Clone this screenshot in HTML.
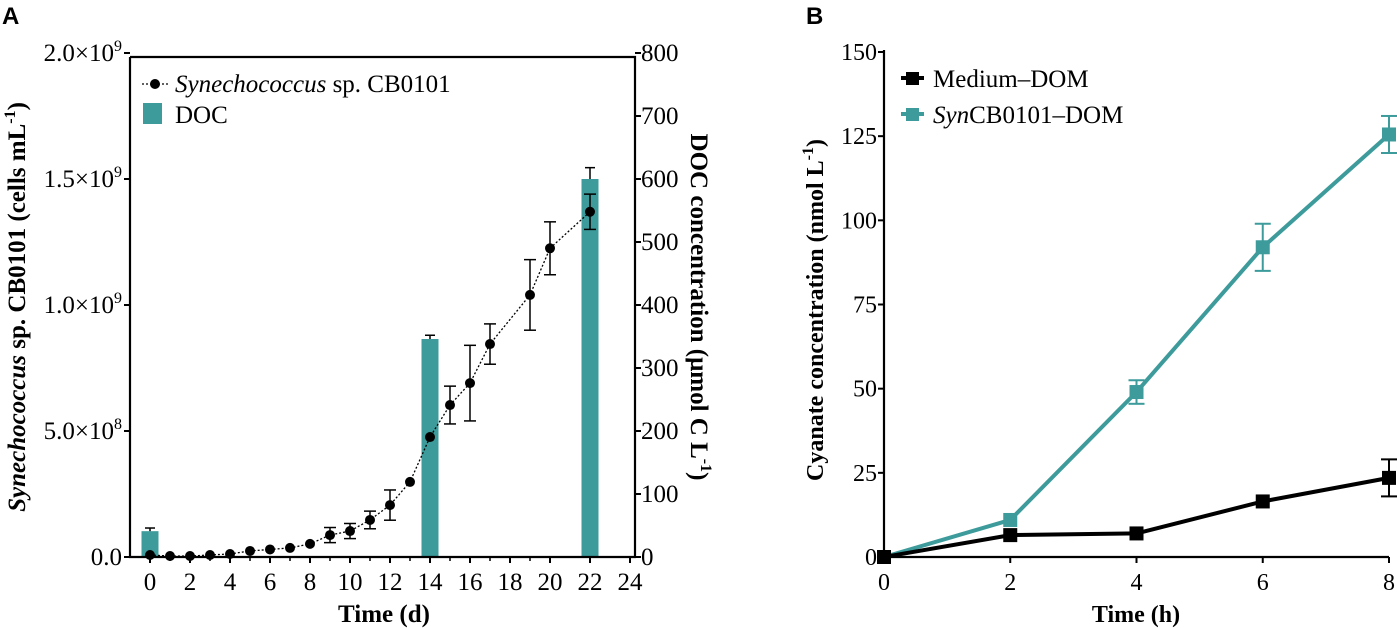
<!DOCTYPE html>
<html><head><meta charset="utf-8"><style>
body{margin:0;background:#fff}
svg{display:block}
text{font-family:"Liberation Serif",serif;fill:#000}
.t{font-size:25px}
.tb{font-size:24px}
.b{font-weight:bold;font-size:25px}
.bb{font-weight:bold;font-size:24px}
.p{font-family:"Liberation Sans",sans-serif;font-weight:bold;font-size:24px}
</style></head><body>
<svg id="s" width="1397" height="628">
<text class="p" x="2" y="24">A</text>
<text class="p" x="806" y="24">B</text>
<g id="ga"></g>
<g id="gb"></g>
</svg>
<script>
const NS='http://www.w3.org/2000/svg';
const aDays=[0,1,2,3,4,5,6,7,8,9,10,11,12,13,14,15,16,17,19,20,22];
const aCells=[0.008,0.004,0.004,0.008,0.012,0.024,0.03,0.036,0.052,0.087,0.103,0.147,0.206,0.298,0.476,0.603,0.69,0.845,1.04,1.225,1.37];
const aCellErr=[0,0,0,0,0,0,0,0,0,0.03,0.03,0.035,0.06,0,0,0.075,0.15,0.08,0.14,0.105,0.07];
const docDays=[0,14,22];
const docVals=[41,346,600];
const docErr=[5,6,18];
const aLeftTicks=['0.0','5.0×10⁸','1.0×10⁹','1.5×10⁹','2.0×10⁹'];
const aRightTicks=[0,100,200,300,400,500,600,700,800];
const aXTicks=[0,2,4,6,8,10,12,14,16,18,20,22,24];
const bTimes=[0,2,4,6,8];
const bMedium=[0,6.5,7,16.5,23.5];
const bMediumErr=[0,0,0,0,5.5];
const bSyn=[0,11,49,92,125.5];
const bSynErr=[0,0,3.5,7,5.5];
const bYTicks=[0,25,50,75,100,125,150];
const TEAL='#3d9b9b';
function el(p,t,a,name){const e=document.createElementNS(NS,t);for(const k in a)e.setAttribute(k,a[k]);


p.appendChild(e);return e;}
function tx(p,x,y,s,cls,anch,name){const e=el(p,'text',{x:x,y:y,class:cls,'text-anchor':anch||'start'},name);e.innerHTML=s;return e;}
// Chart A
const ga=document.getElementById('ga');
const ax=d=>150+d*20, ay=v=>557-v*252, ar=v=>557-v/800*504;
docDays.forEach((d,i)=>{
  el(ga,'rect',{x:ax(d)-8.5,y:ar(docVals[i]),width:17,height:557-ar(docVals[i]),fill:TEAL},'doc-bar-day'+d);
  const y1=ar(docVals[i]+docErr[i]);
  el(ga,'line',{x1:ax(d),x2:ax(d),y1:y1,y2:ar(docVals[i]),stroke:'#000','stroke-width':1.5},'doc-error');
  el(ga,'line',{x1:ax(d)-5,x2:ax(d)+5,y1:y1,y2:y1,stroke:'#000','stroke-width':1.5},'doc-error-cap');
});
el(ga,'polyline',{points:aDays.map((d,i)=>ax(d)+','+ay(aCells[i])).join(' '),fill:'none',stroke:'#000','stroke-width':1.3,'stroke-dasharray':'2,2'},'cells-line');
aDays.forEach((d,i)=>{
  if(aCellErr[i]>0){const y1=ay(aCells[i]+aCellErr[i]),y2=ay(aCells[i]-aCellErr[i]);
    el(ga,'line',{x1:ax(d),x2:ax(d),y1:y1,y2:y2,stroke:'#000','stroke-width':1.5},'cells-error');
    [y1,y2].forEach(y=>el(ga,'line',{x1:ax(d)-6,x2:ax(d)+6,y1:y,y2:y,stroke:'#000','stroke-width':1.5},'cells-error-cap'));}
  el(ga,'circle',{cx:ax(d),cy:ay(aCells[i]),r:5,fill:'#000'},'cells-point-day'+d);
});
el(ga,'path',{d:'M130,57V557H635V57H130',fill:'none',stroke:'#000','stroke-width':2.2},'plot-frame-a');
aLeftTicks.forEach((s,i)=>{const y=ay(i*0.5);el(ga,'line',{x1:124,x2:130,y1:y,y2:y,stroke:'#000','stroke-width':2},'left-tick');
  tx(ga,122,y+8,s.replace(/([⁸⁹])/,'<tspan font-size="16" dy="-10">$1</tspan>').replace('⁸','8').replace('⁹','9'),'t','end','left-tick-label');});
aRightTicks.forEach(v=>{const y=ar(v);el(ga,'line',{x1:635,x2:641,y1:y,y2:y,stroke:'#000','stroke-width':2},'right-tick');
  tx(ga,641,y+8,v,'t','start','right-tick-label');});
aXTicks.forEach(v=>{const x=ax(v);el(ga,'line',{x1:x,x2:x,y1:557,y2:563,stroke:'#000','stroke-width':2},'x-tick');
  tx(ga,x,590,v,'t','middle','x-tick-label');});
aDays.forEach(d=>{if(d%2)el(ga,'line',{x1:ax(d),x2:ax(d),y1:557,y2:561,stroke:'#000','stroke-width':1.5},'x-minor-tick');});
tx(ga,384,622,'Time (d)','b','middle','x-axis-title-a');
tx(ga,0,0,'<tspan font-style="italic">Synechococcus</tspan> sp. CB0101 (cells mL<tspan font-size="16" dy="-10">-1</tspan><tspan dy="10">)</tspan>','b','middle','left-axis-title').setAttribute('transform','translate(25,307) rotate(-90)');
tx(ga,0,0,'DOC concentration (μmol C L<tspan font-size="16" dy="-10">-1</tspan><tspan dy="10">)</tspan>','b','middle','right-axis-title').setAttribute('transform','translate(691,307) rotate(90)');
el(ga,'line',{x1:142,x2:168,y1:84,y2:84,stroke:'#000','stroke-width':1.3,'stroke-dasharray':'2,2'},'legend-cells-line');
el(ga,'circle',{cx:155,cy:84,r:5,fill:'#000'},'legend-cells-marker');
tx(ga,175,92,'<tspan font-style="italic">Synechococcus</tspan> sp. CB0101','t','start','legend-cells-label');
el(ga,'rect',{x:143,y:103,width:19,height:21,fill:TEAL},'legend-doc-swatch');
tx(ga,175,123,'DOC','t','start','legend-doc-label');
// Chart B
const gb=document.getElementById('gb');
const bx=t=>884+t*63.125, by=v=>557-v*505/150;
function series(vals,errs,color,name){
  el(gb,'polyline',{points:bTimes.map((t,i)=>bx(t)+','+by(vals[i])).join(' '),fill:'none',stroke:color,'stroke-width':4},name+'-line');
  bTimes.forEach((t,i)=>{
    if(errs[i]>0){const y1=by(vals[i]+errs[i]),y2=by(vals[i]-errs[i]);
      el(gb,'line',{x1:bx(t),x2:bx(t),y1:y1,y2:y2,stroke:color,'stroke-width':2},name+'-error');
      [y1,y2].forEach(y=>el(gb,'line',{x1:bx(t)-8,x2:bx(t)+8,y1:y,y2:y,stroke:color,'stroke-width':2},name+'-error-cap'));}
    el(gb,'rect',{x:bx(t)-7,y:by(vals[i])-7,width:14,height:14,fill:color},name+'-point-'+t);
  });
}
series(bSyn,bSynErr,TEAL,'syn');
series(bMedium,bMediumErr,'#000','medium');
el(gb,'path',{d:'M884,50V557H1389',fill:'none',stroke:'#000','stroke-width':2.2},'axes-b');
bYTicks.forEach(v=>{const y=by(v);el(gb,'line',{x1:878,x2:884,y1:y,y2:y,stroke:'#000','stroke-width':2},'y-tick-b');
  tx(gb,877,y+8,v,'tb','end','y-tick-label-b');});
bTimes.forEach(t=>{const x=bx(t);el(gb,'line',{x1:x,x2:x,y1:557,y2:563,stroke:'#000','stroke-width':2},'x-tick-b');
  tx(gb,x,590,t,'tb','middle','x-tick-label-b');});
tx(gb,1136,622,'Time (h)','bb','middle','x-axis-title-b');
tx(gb,0,0,'Cyanate concentration (nmol L<tspan font-size="16" dy="-10">-1</tspan><tspan dy="10">)</tspan>','bb','middle','y-axis-title-b').setAttribute('transform','translate(823,310) rotate(-90)');
el(gb,'line',{x1:901,x2:924,y1:78,y2:78,stroke:'#000','stroke-width':4},'legend-medium-line');
el(gb,'rect',{x:906,y:72,width:13,height:13,fill:'#000'},'legend-medium-marker');
tx(gb,933,87,'Medium–DOM','t','start','legend-medium-label');
el(gb,'line',{x1:901,x2:924,y1:114,y2:114,stroke:TEAL,'stroke-width':4},'legend-syn-line');
el(gb,'rect',{x:906,y:108,width:13,height:13,fill:TEAL},'legend-syn-marker');
tx(gb,933,123,'<tspan font-style="italic">Syn</tspan>CB0101–DOM','t','start','legend-syn-label');
</script>
</body></html>
